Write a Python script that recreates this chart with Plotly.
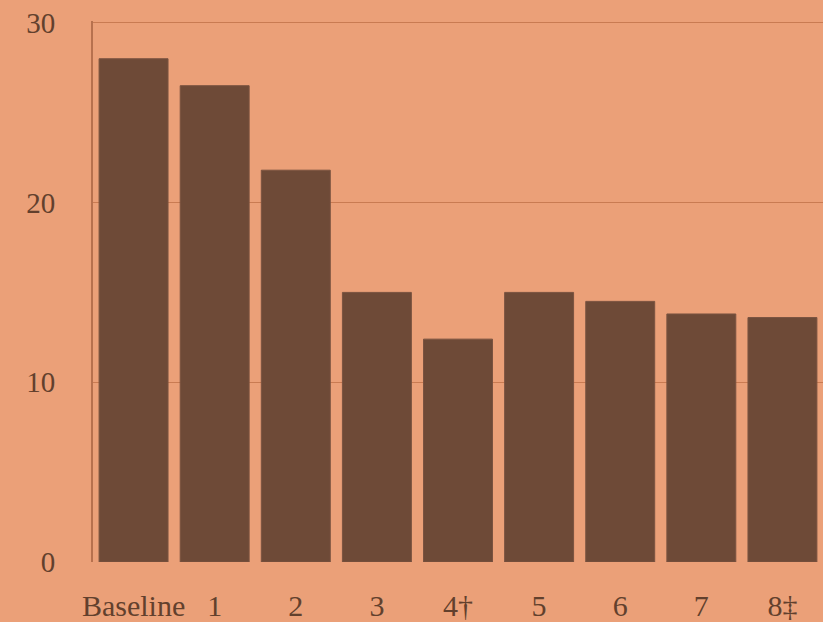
import plotly.graph_objects as go

categories = ["Baseline", "1", "2", "3", "4\u2020", "5", "6", "7", "8\u2021"]
values = [28.0, 26.5, 21.8, 15.0, 12.4, 15.0, 14.5, 13.8, 13.6]
y_ticks = [0, 10, 20, 30]

bg = "#EBA078"
bar_color = "#6E4A37"
text_color = "#62402D"

fig = go.Figure(go.Bar(
    x=categories, y=values,
    marker=dict(color=bar_color, line=dict(color="#7A5340", width=1)),
    width=0.85,
))

fig.update_layout(
    width=823, height=622,
    paper_bgcolor=bg, plot_bgcolor=bg,
    margin=dict(l=93, r=0, t=21, b=60),
    showlegend=False,
    font=dict(family="Liberation Serif, Times New Roman, serif", size=30, color=text_color),
    bargap=0.15,
)
fig.update_xaxes(
    type="category", showgrid=False, showline=False, zeroline=False,
    ticks="", ticklabelstandoff=23, tickfont=dict(size=30),
)
fig.update_yaxes(
    range=[0, 30.1], tickvals=y_ticks, ticktext=[str(v) for v in y_ticks],
    showgrid=True, gridcolor="#C97B52", gridwidth=1,
    showline=True, linecolor="#B7714E", linewidth=2,
    zeroline=False, ticks="", ticklabelstandoff=30, tickfont=dict(size=29),
)

fig.write_html(
    "out.html",
    config={"displayModeBar": False},
    post_script="document.body.style.margin='0';document.body.style.background='" + bg + "';",
)
